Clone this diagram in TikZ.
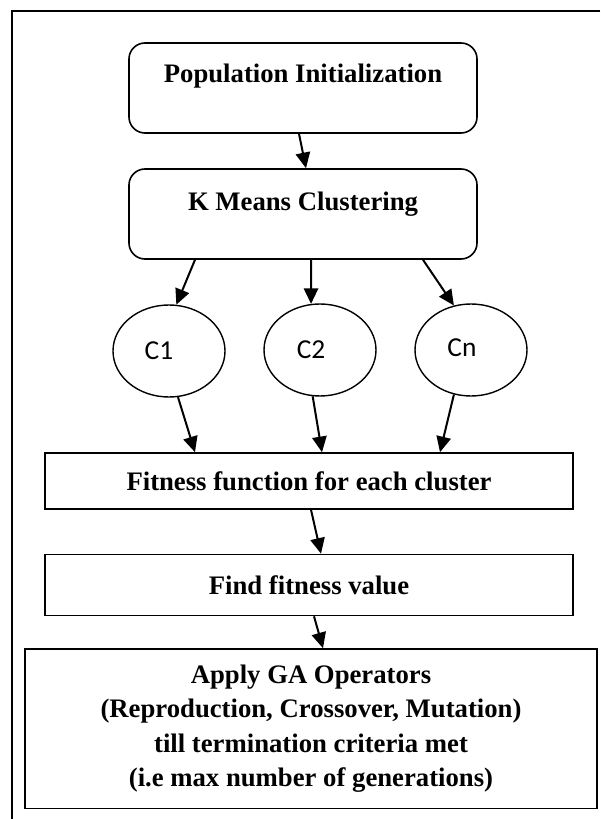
\documentclass[tikz,border=0pt]{standalone}
\usepackage{fontspec}
\setmainfont{Liberation Serif}
\newfontfamily\clusfont{Carlito}
\usetikzlibrary{arrows.meta,shapes.geometric}

\begin{document}
\begin{tikzpicture}[
  rbox/.style={rectangle, rounded corners=0.4cm, draw=black, line width=0.04cm,
             align=center, minimum width=8.7cm, minimum height=2.25cm, inner sep=0pt,
             font=\fontsize{19}{24}\selectfont\bfseries},
  pbox/.style={rectangle, draw=black, line width=0.04cm, align=center, inner sep=0pt,
             font=\fontsize{19}{24.5}\selectfont\bfseries},
  clus/.style={ellipse, draw=black, line width=0.035cm, inner sep=0pt,
             minimum width=2.8cm, minimum height=2.3cm},
  ctext/.style={font=\clusfont\fontsize{19.5}{24}\selectfont},
  frame/.style={line width=0.05cm, black},
  arr/.style={-{Triangle[length=0.39cm,width=0.36cm]}, line width=0.05cm, black},
]
\useasboundingbox (0,0) rectangle (15,-20.475);

\draw[frame] (15,-0.275) -- (0.3,-0.275) -- (0.3,-20.475);

\node[rbox] (pop) at (7.575,-2.2)  {Population Initialization\\[-3pt]\mbox{}};
\node[rbox] (kmc) at (7.575,-5.35) {K Means Clustering\\[-6pt]\mbox{}};

\node[clus, label={[ctext, name=c1txt, xshift=-0.25cm]center:C1}] (c1) at (4.225,-8.775) {};
\node[clus, label={[ctext, name=c2txt, xshift=-0.225cm]center:C2}] (c2) at (8.0,-8.75) {};
\node[clus, label={[ctext, name=cntxt, xshift=-0.225cm, yshift=0.05cm]center:Cn}] (cn) at (11.775,-8.75) {};

\node[pbox, minimum width=13.2cm, minimum height=1.4cm]   (fit)   at (7.725,-12.025) {Fitness function for each cluster};
\node[pbox, minimum width=13.2cm, minimum height=1.525cm] (find)  at (7.725,-14.625) {Find fitness value};
\node[pbox, minimum width=14.3cm, minimum height=3.99cm] (apply) at (7.775,-18.22)
  {Apply GA Operators\\(Reproduction, Crossover, Mutation)\\till termination criteria met\\(i.e max number of generations)};

\draw[arr] ([xshift=-0.1cm]pop.south) -- ([xshift=0.075cm]kmc.north);
\draw[arr] ([xshift=-2.7cm]kmc.south) -- (c1.81);
\draw[arr] ([xshift=0.2cm]kmc.south) -- (c2.101);
\draw[arr] ([xshift=3.0cm]kmc.south) -- (cn.111);
\draw[arr] (c1.281) -- ([xshift=-2.85cm]fit.north);
\draw[arr] (c2.261) -- ([xshift=0.325cm]fit.north);
\draw[arr] (cn.249) -- ([xshift=3.275cm]fit.north);
\draw[arr] ([xshift=0.05cm]fit.south) -- ([xshift=0.3cm]find.north);
\draw[arr] ([xshift=0.125cm]find.south) -- ([xshift=0.3cm]apply.north);
\end{tikzpicture}
\end{document}
